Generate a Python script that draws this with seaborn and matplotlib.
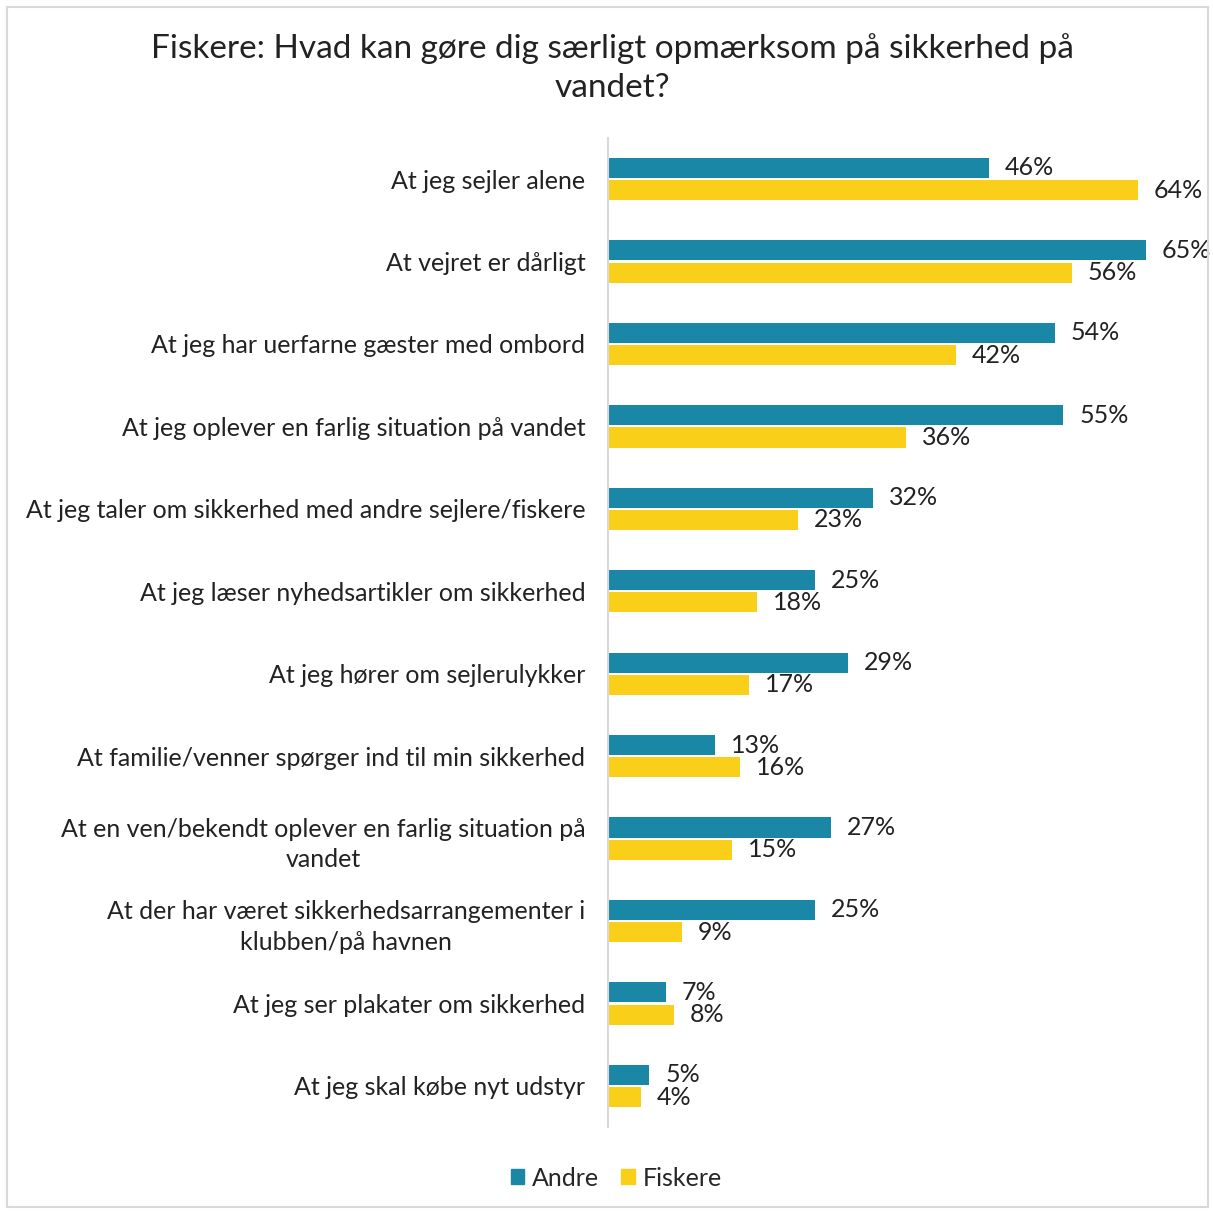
import pandas as pd
import matplotlib.pyplot as plt
import seaborn as sns
from matplotlib.patches import Rectangle

# Data
categories = [
    "At jeg sejler alene",
    "At vejret er dårligt",
    "At jeg har uerfarne gæster med ombord",
    "At jeg oplever en farlig situation på vandet",
    "At jeg taler om sikkerhed med andre sejlere/fiskere",
    "At jeg læser nyhedsartikler om sikkerhed",
    "At jeg hører om sejlerulykker",
    "At familie/venner spørger ind til min sikkerhed",
    "At en ven/bekendt oplever en farlig situation på\nvandet",
    "At der har været sikkerhedsarrangementer i\nklubben/på havnen",
    "At jeg ser plakater om sikkerhed",
    "At jeg skal købe nyt udstyr",
]
andre = [46, 65, 54, 55, 32, 25, 29, 13, 27, 25, 7, 5]
fiskere = [64, 56, 42, 36, 23, 18, 17, 16, 15, 9, 8, 4]
series_names = ["Andre", "Fiskere"]
colors = ["#1B87A7", "#FACF1A"]

df = pd.DataFrame({
    "kategori": categories * 2,
    "gruppe": [series_names[0]] * len(categories) + [series_names[1]] * len(categories),
    "andel": andre + fiskere,
})

sns.set_style("white")
plt.rcParams['font.family'] = ['Lato', 'DejaVu Sans']

fig = plt.figure(figsize=(12.13, 12.11), dpi=100)
ax = fig.add_axes([0.501, 0.0692, 0.478, 0.817])

sns.barplot(data=df, x="andel", y="kategori", hue="gruppe", orient="h",
            palette=colors, saturation=1, width=0.54, gap=0.1, ax=ax,
            legend=False, edgecolor="none")

for container in ax.containers:
    ax.bar_label(container, labels=[f"{v:.0f}%" for v in container.datavalues],
                 padding=11.5, fontsize=18, color="#222222")

ax.set_xlim(0, 70)
ax.set_ylim(11.5, -0.5)
ax.set_xlabel("")
ax.set_ylabel("")
ax.set_xticks([])
for s in ["top", "right", "bottom"]:
    ax.spines[s].set_visible(False)
ax.spines["left"].set_color("#D9D9D9")
ax.spines["left"].set_linewidth(1.5)
ax.tick_params(axis="y", length=0, pad=16, labelsize=18, labelcolor="#222222")
for lbl in ax.get_yticklabels():
    lbl.set_multialignment("center")
    lbl.set_linespacing(1.4)

fig.suptitle("Fiskere: Hvad kan gøre dig særligt opmærksom på sikkerhed på\nvandet?",
             x=0.505, y=0.973, fontsize=24, color="#222222", linespacing=1.4)

handles = [Rectangle((0, 0), 1, 1, color=c) for c in colors]
fig.legend(handles, series_names, loc="center", bbox_to_anchor=(0.508, 0.027),
           ncol=2, frameon=False, fontsize=18, handlelength=0.55,
           handleheight=0.55, handletextpad=0.3, columnspacing=0.9)

# light frame around the chart area
fig.patches.append(Rectangle((0.006, 0.003), 0.99, 0.991, transform=fig.transFigure,
                             fill=False, edgecolor="#D9D9D9", linewidth=1.5))

fig.savefig("out.png", dpi=100)
